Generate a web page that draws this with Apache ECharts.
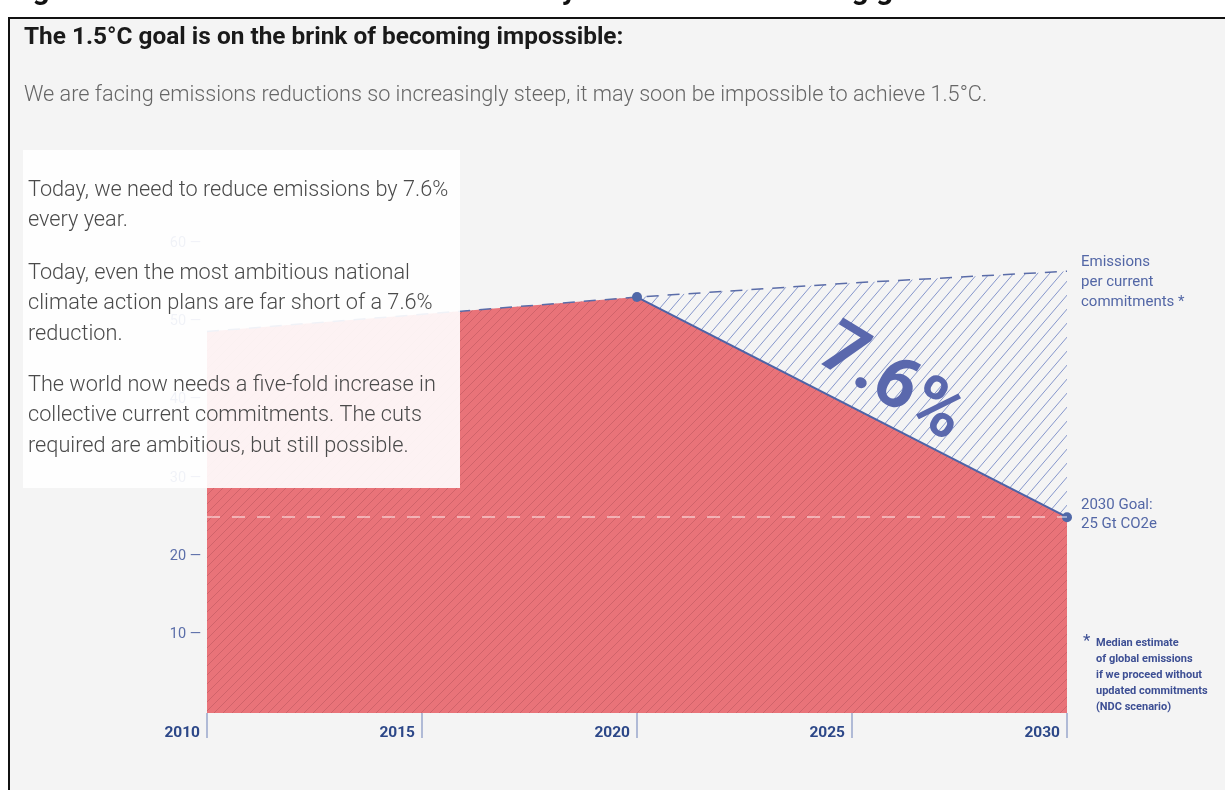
<!DOCTYPE html>
<html>
<head>
<meta charset="utf-8">
<script src="https://cdn.jsdelivr.net/npm/echarts@6/dist/echarts.min.js"></script>
<style>
html,body{margin:0;padding:0;background:#fff;}
#c{width:1225px;height:790px;}
</style>
</head>
<body>
<div id="c"></div>
<script>
// ---- data ----
const years = [2010, 2015, 2020, 2025, 2030];
const yTicks = [0, 10, 20, 30, 40, 50, 60];
const commitments = [48.7, 50.9, 53.1, 54.9, 56.4];      // emissions per current commitments (Gt)
const goalYears = [2010, 2015, 2020, 2030];
const goalPath = [48.7, 50.9, 53.1, 25];                  // required path to 1.5°C
const declineYears = [2020, 2030];
const declineVals = [53.1, 25];
const goal2030 = 25;

const pairs = (xs, ys) => xs.map((x, i) => [x, ys[i]]);

function hatch(bg, line, w, h, lw) {
  const c = document.createElement('canvas');
  c.width = w; c.height = h;
  const g = c.getContext('2d');
  g.fillStyle = bg; g.fillRect(0, 0, w, h);
  g.strokeStyle = line; g.lineWidth = lw;
  g.beginPath();
  g.moveTo(0, h); g.lineTo(w, 0);
  g.moveTo(-w, h); g.lineTo(0, 0);
  g.moveTo(w, h); g.lineTo(2 * w, 0);
  g.stroke();
  return c;
}
const redPat = hatch('#e97379', '#d0636a', 9, 9, 1);
const bluePat = hatch('#f4f4f4', '#8595cb', 12, 14, 1);

const chart = echarts.init(document.getElementById('c'));
const FONT = 'Roboto, "Noto Sans", sans-serif';

const option = {
  backgroundColor: '#ffffff',
  animation: false,
  grid: { left: 207, right: 158, top: 243, bottom: 77 },
  xAxis: {
    type: 'value', min: years[0], max: years[years.length - 1], interval: 5,
    splitLine: { show: false },
    axisLine: { show: false },
    axisTick: { show: true, length: 25, lineStyle: { color: '#b0bad6', width: 2 } },
    axisLabel: {
      color: '#2c4788', fontWeight: 'bold', fontSize: 15.5, fontFamily: FONT,
      align: 'right', margin: 12, padding: [0, 7, 0, 0],
      formatter: v => years.includes(v) ? String(v) : ''
    }
  },
  yAxis: {
    type: 'value', min: yTicks[0], max: yTicks[yTicks.length - 1], interval: 10,
    splitLine: { show: false },
    axisLine: { show: false },
    axisTick: { show: false },
    axisLabel: {
      color: '#5b6ea9', fontSize: 14.5, fontFamily: FONT, margin: 6,
      formatter: v => v === 0 ? '' : v + ' —'
    }
  },
  series: [
    {
      type: 'line', name: 'gap', z: 1,
      data: pairs(years, commitments),
      symbol: 'none', lineStyle: { width: 0 },
      areaStyle: { color: { image: bluePat, repeat: 'repeat' }, opacity: 1 }
    },
    {
      type: 'line', name: 'path', z: 2,
      data: pairs(goalYears, goalPath),
      symbol: 'none', lineStyle: { width: 0 },
      areaStyle: { color: { image: redPat, repeat: 'repeat' }, opacity: 1 },
      markLine: {
        silent: true, symbol: 'none', label: { show: false },
        lineStyle: { color: 'rgba(255,255,255,0.6)', type: [13, 12], width: 1.5 },
        data: [{ yAxis: goal2030 }]
      }
    },
    {
      type: 'line', name: 'commitments', z: 3,
      data: pairs(years, commitments),
      symbol: 'none',
      lineStyle: { color: '#5a6ca8', width: 1.5, type: [12, 9] }
    },
    {
      type: 'line', name: 'decline', z: 4,
      data: pairs(declineYears, declineVals),
      symbol: 'circle', symbolSize: 10, showAllSymbol: true,
      itemStyle: { color: '#5068a8' },
      lineStyle: { color: '#4d63a6', width: 2 }
    }
  ]
};
chart.setOption(option);

// annotations anchored to data
const pEnd = chart.convertToPixel({ gridIndex: 0 }, [2030, commitments[commitments.length - 1]]);
const pGoal = chart.convertToPixel({ gridIndex: 0 }, [2030, goal2030]);
const pMid = chart.convertToPixel({ gridIndex: 0 }, [2025.9, 41.8]);
const pFoot = chart.convertToPixel({ gridIndex: 0 }, [2030, 10]);

const BOX = { font: '300 21.7px ' + FONT, fill: '#4a4a4a', textVerticalAlign: 'top', lineHeight: 30.5 };

chart.setOption({
  graphic: [
    { type: 'rect', z: -10, shape: { x: 9, y: 18, width: 1300, height: 900 },
      style: { fill: '#f4f4f4', stroke: '#111', lineWidth: 2 } },
    { type: 'text', z: 5, x: 8, y: 6,
      style: { text: 'Figure 6: Global emissions cuts necessary to reach the warming goals', font: 'bold 30px ' + FONT, fill: '#111', textVerticalAlign: 'bottom' } },
    { type: 'text', z: 5, x: 24, y: 38,
      style: { text: 'The 1.5°C goal is on the brink of becoming impossible:', font: 'bold 24.4px ' + FONT, fill: '#1a1a1a', textVerticalAlign: 'middle' } },
    { type: 'text', z: 5, x: 24, y: 96,
      style: { text: 'We are facing emissions reductions so increasingly steep, it may soon be impossible to achieve 1.5°C.', font: '300 21.7px ' + FONT, fill: '#666', textVerticalAlign: 'middle' } },
    { type: 'rect', z: 100, shape: { x: 23, y: 150, width: 437, height: 338 },
      style: { fill: 'rgba(255,255,255,0.91)' } },
    { type: 'text', z: 101, x: 28, y: 175, style: Object.assign({ text: 'Today, we need to reduce emissions by 7.6%\nevery year.' }, BOX) },
    { type: 'text', z: 101, x: 28, y: 258, style: Object.assign({ text: 'Today, even the most ambitious national\nclimate action plans are far short of a 7.6%\nreduction.' }, BOX) },
    { type: 'text', z: 101, x: 28, y: 370, style: Object.assign({ text: 'The world now needs a five-fold increase in\ncollective current commitments. The cuts\nrequired are ambitious, but still possible.' }, BOX) },
    { type: 'text', z: 20, x: pMid[0], y: pMid[1], rotation: -0.55,
      style: { text: '7.6%', font: 'bold 72px ' + FONT, fill: '#5a68ad', textAlign: 'center', textVerticalAlign: 'middle' } },
    { type: 'text', z: 20, x: pEnd[0] + 14, y: pEnd[1] - 19,
      style: { text: 'Emissions\nper current\ncommitments *', font: '15px ' + FONT, fill: '#5367a6', lineHeight: 20, textVerticalAlign: 'top' } },
    { type: 'text', z: 20, x: pGoal[0] + 14, y: pGoal[1] - 21,
      style: { text: '2030 Goal:\n25 Gt CO2e', font: '15px ' + FONT, fill: '#5367a6', lineHeight: 19, textVerticalAlign: 'top' } },
    { type: 'text', z: 20, x: pFoot[0] + 16, y: pFoot[1] - 1,
      style: { text: '*', font: '17px ' + FONT, fill: '#3d4f94', textVerticalAlign: 'top' } },
    { type: 'text', z: 20, x: pFoot[0] + 29, y: pFoot[1] + 1,
      style: { text: 'Median estimate\nof global emissions\nif we proceed without\nupdated commitments\n(NDC scenario)', font: 'bold 11px ' + FONT, fill: '#3d4f94', lineHeight: 16, textVerticalAlign: 'top' } }
  ]
});
</script>
</body>
</html>
